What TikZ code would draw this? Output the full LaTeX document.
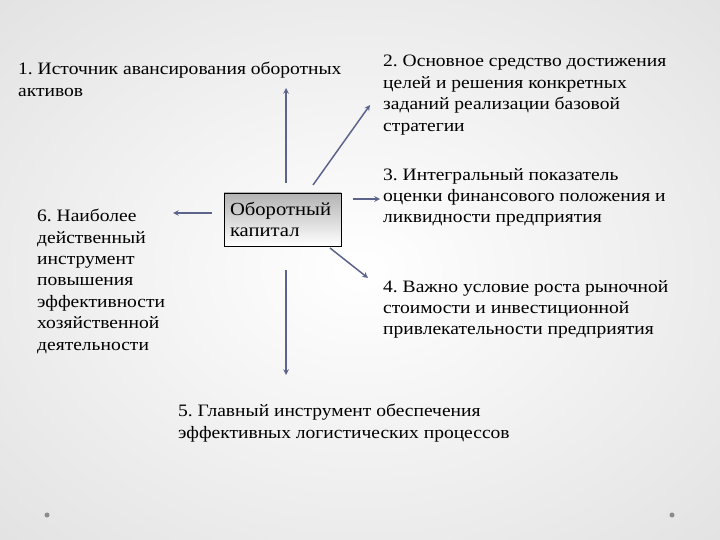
\documentclass[tikz,border=0pt]{standalone}
\usepackage{fontspec}
\setmainfont{Liberation Serif}[FakeStretch=1.12]
\usepackage{tikz}
\usetikzlibrary{positioning}

\definecolor{arrowcol}{RGB}{92,100,140}

\begin{document}
\frenchspacing
\begin{tikzpicture}[x=1bp, y=-1bp,
    every node/.style={inner sep=0pt, anchor=north west, align=left,
                       font=\fontsize{17.5}{21.5}\selectfont},
    arr/.style={->, >=stealth, line width=1.5pt, arrowcol}]
            % Фон
            \useasboundingbox (0,0) rectangle (720,540);
            \shade[inner color=white, outer color=black!20] (-560,-420) rectangle (1280,960);
            \fill[black!45] (47,515) circle (2.5);
            \fill[black!45] (672,515) circle (2.5);

            % Узлы
            \node[draw, anchor=center, top color=black!30, bottom color=white,
                  text width=105bp, minimum height=53bp, inner xsep=6bp, inner ysep=3bp,
                  font=\fontsize{18.5}{21}\selectfont] (cap) at (282.5,219.5)
                 {Оборотный\\капитал};
            \node (t1) at (18,62) {1. Источник авансирования оборотных\\активов};
            \node (t2) at (383,55) {2. Основное средство достижения\\целей и решения конкретных\\заданий реализации базовой\\стратегии};
            \node (t3) at (383,168) {3. Интегральный показатель\\оценки финансового положения и\\ликвидности предприятия};
            \node (t4) at (383,280) {4. Важно условие роста рыночной\\стоимости и инвестиционной\\привлекательности предприятия};
            \node (t5) at (178,404) {5. Главный инструмент обеспечения\\эффективных логистических процессов};
            \node (t6) at (37,209) {6. Наиболее\\действенный\\инструмент\\повышения\\эффективности\\хозяйственной\\деятельности};

            \coordinate (e1) at (286,88);
            \coordinate (e2) at (370,105);
            \coordinate (e3) at (380,199);
            \coordinate (e4) at (368,278);
            \coordinate (e5) at (286,375);
            \coordinate (e6) at (173,213);
            \coordinate (s1) at (286,183);
            \coordinate (s2) at (313,185);
            \coordinate (s3) at (353,199);
            \coordinate (s4) at (330,248);
            \coordinate (s5) at (286,270);
            \coordinate (s6) at (212,213);

            % Стрелки
            \draw[arr] (s1) -- (e1);
            \draw[arr] (s2) -- (e2);
            \draw[arr] (s3) -- (e3);
            \draw[arr] (s4) -- (e4);
            \draw[arr] (s5) -- (e5);
            \draw[arr] (s6) -- (e6);
          \end{tikzpicture}
\end{document}
